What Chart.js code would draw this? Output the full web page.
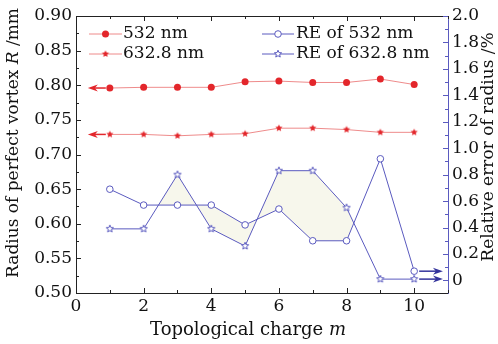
<!DOCTYPE html>
<html>
<head>
<meta charset="utf-8">
<script src="https://cdn.jsdelivr.net/npm/chart.js@4.4.1/dist/chart.umd.min.js"></script>
<style>
html,body{margin:0;padding:0;background:#fff;}
canvas{display:block;}
</style>
</head>
<body>
<canvas id="chart" width="498" height="344"></canvas>
<script>
// values
var charges = [1, 2, 3, 4, 5, 6, 7, 8, 9, 10];
var radius532 = [0.796, 0.797, 0.797, 0.797, 0.805, 0.806, 0.804, 0.804, 0.809, 0.801];
var radius633 = [0.729, 0.729, 0.727, 0.729, 0.730, 0.738, 0.738, 0.736, 0.732, 0.732];
var re532 = [0.69, 0.57, 0.57, 0.57, 0.42, 0.54, 0.30, 0.30, 0.92, 0.07];
var re633 = [0.39, 0.39, 0.80, 0.39, 0.26, 0.83, 0.83, 0.55, 0.01, 0.01];
var seriesNames = ['532 nm', '632.8 nm', 'RE of 532 nm', 'RE of 632.8 nm'];
var xTicks = [0, 2, 4, 6, 8, 10];
var leftTicks = [0.50, 0.55, 0.60, 0.65, 0.70, 0.75, 0.80, 0.85, 0.90];
var rightTicks = [0, 0.2, 0.4, 0.6, 0.8, 1.0, 1.2, 1.4, 1.6, 1.8, 2.0];

var RED = '#e3262b';
var RED_LINE = 'rgba(232,100,100,0.75)';
var BLUE = '#5a5abf';
var BLUE_DARK = '#34349c';
var FILL = '#f7f7ec';
var FONT = 'DejaVu Serif';

function makeStar(r, fill, stroke){
  var s = Math.ceil(r * 2 + 4);
  var c = document.createElement('canvas');
  c.width = s; c.height = s;
  var g = c.getContext('2d');
  g.beginPath();
  for (var k = 0; k < 10; k++) {
    var rr = k % 2 === 0 ? r : r * 0.45;
    var ang = -Math.PI / 2 + k * Math.PI / 5;
    var px = s / 2 + rr * Math.cos(ang), py = s / 2 + rr * Math.sin(ang);
    if (k === 0) g.moveTo(px, py); else g.lineTo(px, py);
  }
  g.closePath();
  if (fill) { g.fillStyle = fill; g.fill(); }
  if (stroke) { g.strokeStyle = stroke; g.lineWidth = 1; g.stroke(); }
  return c;
}
var starRed = makeStar(3.8, RED, null);
var starBlue = makeStar(3.8, '#fff', BLUE);

function toPoints(arr){
  return charges.map(function(m, i){ return {x: m, y: arr[i]}; });
}

function cross(a, b){
  var out = [];
  for (var i = 0; i < a.length - 1; i++) {
    var d0 = b[i] - a[i], d1 = b[i + 1] - a[i + 1];
    if (d0 * d1 < 0) out.push({i: i, t: d0 / (d0 - d1)});
  }
  return out;
}

function drawMixed(ctx, parts, cx, cy, size){
  var total = 0;
  parts.forEach(function(p){
    ctx.font = (p.italic ? 'italic ' : '') + size + 'px "' + FONT + '"';
    p.w = ctx.measureText(p.text).width;
    total += p.w;
  });
  var x = cx - total / 2;
  ctx.textAlign = 'left';
  ctx.textBaseline = 'middle';
  parts.forEach(function(p){
    ctx.font = (p.italic ? 'italic ' : '') + size + 'px "' + FONT + '"';
    ctx.fillText(p.text, x, cy);
    x += p.w;
  });
}

function arrow(ctx, x0, x1, y, color){
  var dir = x1 > x0 ? 1 : -1;
  ctx.strokeStyle = color;
  ctx.fillStyle = color;
  ctx.lineWidth = 1.5;
  ctx.beginPath();
  ctx.moveTo(x0, y);
  ctx.lineTo(x1 - dir * 6, y);
  ctx.stroke();
  ctx.beginPath();
  ctx.moveTo(x1, y);
  ctx.lineTo(x1 - dir * 10, y - 3.5);
  ctx.lineTo(x1 - dir * 7, y);
  ctx.lineTo(x1 - dir * 10, y + 3.5);
  ctx.closePath();
  ctx.fill();
}

var decor = {
  id: 'decor',
  beforeDatasetsDraw: function(chart){
    // shaded band between the two RE curves, from first to last crossing
    var ctx = chart.ctx, xs = chart.scales.x, ys = chart.scales.y2;
    var c = cross(re532, re633);
    if (c.length < 2) return;
    var f = c[0], l = c[c.length - 1];
    function at(arr, k){ return arr[k.i] + k.t * (arr[k.i + 1] - arr[k.i]); }
    ctx.save();
    ctx.fillStyle = FILL;
    ctx.beginPath();
    ctx.moveTo(xs.getPixelForValue(charges[f.i] + f.t), ys.getPixelForValue(at(re532, f)));
    for (var i = f.i + 1; i <= l.i; i++) ctx.lineTo(xs.getPixelForValue(charges[i]), ys.getPixelForValue(re633[i]));
    ctx.lineTo(xs.getPixelForValue(charges[l.i] + l.t), ys.getPixelForValue(at(re532, l)));
    for (var j = l.i; j >= f.i + 1; j--) ctx.lineTo(xs.getPixelForValue(charges[j]), ys.getPixelForValue(re532[j]));
    ctx.closePath();
    ctx.fill();
    ctx.restore();
  },
  afterDatasetsDraw: function(chart){
    var ctx = chart.ctx, xs = chart.scales.x, y = chart.scales.y, y2 = chart.scales.y2;
    var n = charges.length - 1;
    ctx.save();
    // arrows show which axis each pair belongs to
    arrow(ctx, xs.getPixelForValue(charges[0]) - 4, xs.getPixelForValue(0.35), y.getPixelForValue(radius532[0]), RED);
    arrow(ctx, xs.getPixelForValue(charges[0]) - 4, xs.getPixelForValue(0.35), y.getPixelForValue(radius633[0]), RED);
    arrow(ctx, xs.getPixelForValue(charges[n]) + 5, xs.getPixelForValue(10.85), y2.getPixelForValue(re532[n]), BLUE_DARK);
    arrow(ctx, xs.getPixelForValue(charges[n]) + 5, xs.getPixelForValue(10.85), y2.getPixelForValue(re633[n]), BLUE_DARK);
    ctx.restore();
  },
  afterDraw: function(chart){
    var ctx = chart.ctx, a = chart.chartArea;
    var xs = chart.scales.x, y = chart.scales.y, y2 = chart.scales.y2;
    ctx.save();
    ctx.lineWidth = 1;
    // top frame line
    ctx.strokeStyle = '#222';
    ctx.beginPath();
    ctx.moveTo(a.left, a.top + 0.5);
    ctx.lineTo(a.right, a.top + 0.5);
    ctx.stroke();
    // inward ticks, bottom and top
    var k, px, len;
    for (k = 0; k <= 11; k++) {
      px = Math.round(xs.getPixelForValue(k)) + 0.5;
      len = k % 2 === 0 ? 5 : 3;
      ctx.beginPath();
      ctx.moveTo(px, a.bottom); ctx.lineTo(px, a.bottom - len);
      ctx.moveTo(px, a.top); ctx.lineTo(px, a.top + len);
      ctx.stroke();
    }
    for (k = 0; k <= 16; k++) {
      var v = 0.5 + k * 0.025;
      px = Math.round(y.getPixelForValue(v)) + 0.5;
      len = k % 2 === 0 ? 5 : 3;
      ctx.beginPath();
      ctx.moveTo(a.left, px); ctx.lineTo(a.left + len, px);
      ctx.stroke();
    }
    ctx.strokeStyle = BLUE;
    for (k = 0; k <= 20; k++) {
      px = Math.round(y2.getPixelForValue(k * 0.1)) + 0.5;
      len = k % 2 === 0 ? 5 : 3;
      ctx.beginPath();
      ctx.moveTo(a.right, px); ctx.lineTo(a.right - len, px);
      ctx.stroke();
    }

    // axis titles
    ctx.fillStyle = '#111';
    ctx.save();
    ctx.translate(14, 143);
    ctx.rotate(-Math.PI / 2);
    drawMixed(ctx, [{text: 'Radius of perfect vortex '}, {text: 'R', italic: true}, {text: ' /mm'}], 0, 0, 17);
    ctx.restore();
    ctx.save();
    ctx.translate(489, 147);
    ctx.rotate(-Math.PI / 2);
    drawMixed(ctx, [{text: 'Relative error of radius /%'}], 0, 0, 17);
    ctx.restore();
    drawMixed(ctx, [{text: 'Topological charge '}, {text: 'm', italic: true}], 248, 330, 18);

    // legend
    var items = [
      {x0: 89, x1: 122, y: 34, line: RED_LINE, mark: 'dot', tx: 123},
      {x0: 89, x1: 122, y: 54, line: RED_LINE, mark: starRed, tx: 123},
      {x0: 262, x1: 294, y: 34, line: BLUE, mark: 'ring', tx: 296},
      {x0: 262, x1: 294, y: 54, line: BLUE, mark: starBlue, tx: 296}
    ];
    items.forEach(function(it, i){
      ctx.strokeStyle = it.line;
      ctx.lineWidth = 1;
      ctx.beginPath();
      ctx.moveTo(it.x0, it.y); ctx.lineTo(it.x1, it.y);
      ctx.stroke();
      var mx = (it.x0 + it.x1) / 2;
      if (it.mark === 'dot') {
        ctx.fillStyle = RED;
        ctx.beginPath(); ctx.arc(mx, it.y, 3.5, 0, Math.PI * 2); ctx.fill();
      } else if (it.mark === 'ring') {
        ctx.fillStyle = '#fff'; ctx.strokeStyle = BLUE;
        ctx.beginPath(); ctx.arc(mx, it.y, 3.3, 0, Math.PI * 2); ctx.fill(); ctx.stroke();
      } else {
        ctx.drawImage(it.mark, mx - it.mark.width / 2, it.y - it.mark.height / 2);
      }
      ctx.fillStyle = '#111';
      ctx.font = '17px "' + FONT + '"';
      ctx.textAlign = 'left';
      ctx.textBaseline = 'middle';
      ctx.fillText(seriesNames[i], it.tx, it.y);
    });
    ctx.restore();
  }
};

function tickFont(){ return {family: FONT, size: 17}; }

new Chart(document.getElementById('chart'), {
  type: 'line',
  data: {
    datasets: [{
      label: seriesNames[0],
      data: toPoints(radius532),
      yAxisID: 'y',
      borderColor: RED_LINE,
      borderWidth: 1,
      pointStyle: 'circle',
      pointRadius: 3.5,
      pointBackgroundColor: RED,
      pointBorderColor: RED,
      pointBorderWidth: 0,
      fill: false
    }, {
      label: seriesNames[1],
      data: toPoints(radius633),
      yAxisID: 'y',
      borderColor: RED_LINE,
      borderWidth: 1,
      pointStyle: starRed,
      pointRadius: 4,
      fill: false
    }, {
      label: seriesNames[2],
      data: toPoints(re532),
      yAxisID: 'y2',
      borderColor: BLUE,
      borderWidth: 1,
      pointStyle: 'circle',
      pointRadius: 3.3,
      pointBackgroundColor: '#fff',
      pointBorderColor: BLUE,
      pointBorderWidth: 1,
      fill: false
    }, {
      label: seriesNames[3],
      data: toPoints(re633),
      yAxisID: 'y2',
      borderColor: BLUE,
      borderWidth: 1,
      pointStyle: starBlue,
      pointRadius: 4,
      fill: false
    }]
  },
  options: {
    responsive: false,
    animation: false,
    devicePixelRatio: 1,
    layout: {padding: {top: 16, left: 0, right: 0, bottom: 0}},
    plugins: {legend: {display: false}, tooltip: {enabled: false}},
    scales: {
      x: {
        type: 'linear', position: 'bottom', min: 0, max: 11,
        grid: {display: false, drawTicks: false},
        border: {display: true, color: '#222', width: 1},
        ticks: {font: tickFont(), color: '#111', padding: 3, maxRotation: 0,
          callback: function(v){ return String(v); }},
        afterBuildTicks: function(s){ s.ticks = xTicks.map(function(v){ return {value: v}; }); },
        afterFit: function(s){ s.height = 51; }
      },
      y: {
        type: 'linear', position: 'left', min: 0.5, max: 0.9,
        grid: {display: false, drawTicks: false},
        border: {display: true, color: '#222', width: 1},
        ticks: {font: tickFont(), color: '#111', padding: 4,
          callback: function(v){ return v.toFixed(2); }},
        afterBuildTicks: function(s){ s.ticks = leftTicks.map(function(v){ return {value: v}; }); },
        afterFit: function(s){ s.width = 76; }
      },
      y2: {
        type: 'linear', position: 'right', min: -0.095, max: 2.0,
        grid: {display: false, drawTicks: false},
        border: {display: true, color: BLUE, width: 1},
        ticks: {font: tickFont(), color: '#111', padding: 4,
          callback: function(v){ return v === 0 ? '0' : v.toFixed(1); }},
        afterBuildTicks: function(s){ s.ticks = rightTicks.map(function(v){ return {value: v}; }); },
        afterFit: function(s){ s.width = 50; }
      }
    }
  },
  plugins: [decor]
});
</script>
</body>
</html>
